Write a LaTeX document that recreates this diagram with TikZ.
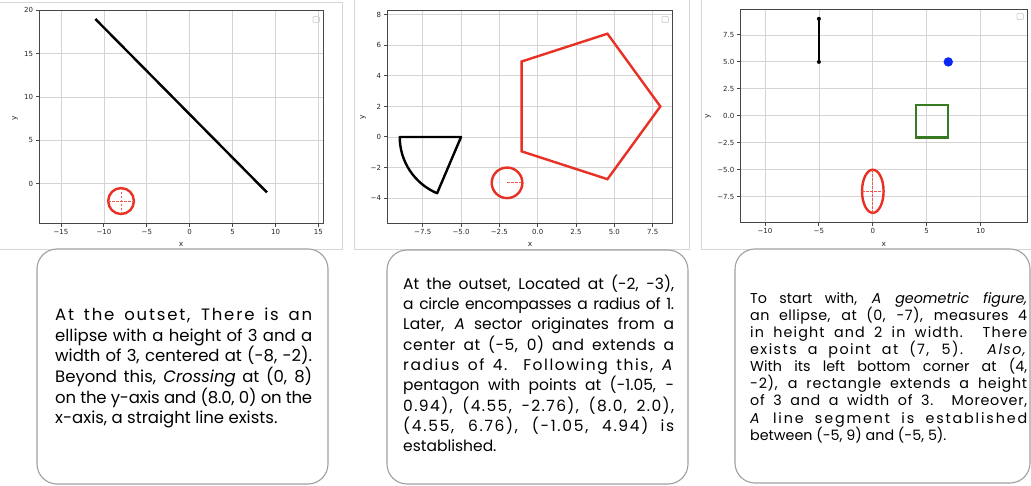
\documentclass[tikz,border=0pt]{standalone}
\usepackage{fontspec}
\setmainfont{Poppins}
\newfontfamily\tickfont{DejaVu Sans}
\newcommand\lsp[2]{{\addfontfeature{LetterSpace=#1}#2}}
\definecolor{plotred}{RGB}{232,48,36}
\definecolor{plotblue}{RGB}{10,40,245}
\definecolor{plotgreen}{RGB}{56,122,34}
\definecolor{gridc}{RGB}{212,212,212}
\definecolor{framec}{RGB}{70,70,70}
\definecolor{imgframe}{RGB}{215,215,215}
\definecolor{boxc}{RGB}{160,160,160}
\begin{document}
\begin{tikzpicture}[x=1pt,y=-1pt,
  gridline/.style={draw=gridc, line width=0.8pt},
  frame/.style={draw=framec, line width=1pt},
  ticklab/.style={font=\tickfont\fontsize{7}{8}\selectfont, text=black!85, inner sep=2pt},
  axlab/.style={font=\tickfont\fontsize{7.5}{8}\selectfont, text=black!85, inner sep=0pt},
  shapeline/.style={line width=2.4pt},
  crossd/.style={draw=plotred!80, line width=0.7pt, dash pattern=on 2.5pt off 1.5pt},
  legbox/.style={draw=imgframe, line width=0.8pt, rounded corners=1pt},
  textbox/.style={draw=boxc, line width=1.1pt, rounded corners=20pt, fill=white, inner sep=0pt},
  txt/.style={inner sep=0pt, anchor=base west},
  txtA/.style={txt, font=\fontsize{16.5}{18}\selectfont},
  txtB/.style={txt, font=\fontsize{15.5}{18}\selectfont},
  txtC/.style={txt, font=\fontsize{14.3}{16}\selectfont}]
\useasboundingbox (0,0) rectangle (1031,486);
\fill[white] (0,0) rectangle (1031,486);
% image frames
\draw[imgframe, line width=0.8pt] (-1,2.5) -- (342.7,2.5) -- (342.7,249.3) -- (-1,249.3);
\draw[imgframe, line width=0.8pt] (354.3,-1) -- (354.3,249.3) -- (689.3,249.3) -- (689.3,-1);
\draw[imgframe, line width=0.8pt] (701.7,-1) -- (701.7,249.3) -- (1032,249.3);

% ---------------- plot 1 ----------------
\begin{scope}[shift={(189.7,183.7)}, x=8.58pt, y=8.67pt]
  \foreach \v in {-15,-10,...,15} \draw[gridline] (\v,-4.61) -- (\v,20.03);
  \foreach \v in {0,5,...,20} \draw[gridline] (-17.56,\v) -- (15.54,\v);
  \foreach \v/\t [count=\i] in {-15/−15,-10/−10,-5/−5,0/0,5/5,10/10,15/15}
    \draw[frame] (\v,-4.61) -- ++(0,-3.5pt) node[below, ticklab] (pAx\i) {\t};
  \foreach \v/\t [count=\i] in {0/0,5/5,10/10,15/15,20/20}
    \draw[frame] (-17.56,\v) -- ++(-3.5pt,0) node[left, ticklab] (pAy\i) {\t};
  \draw[black, shapeline] (-11,19) -- (9,-1);
  \draw[plotred, shapeline] (-8,-2) ellipse [x radius=1.5, y radius=1.5];
  \draw[crossd] (-9.5,-2) -- (-6.5,-2);
  \draw[crossd] (-8,-3.5) -- (-8,-0.5);
  \draw[frame] (-17.56,-4.61) rectangle (15.54,20.03);
\end{scope}
\draw[legbox] (313,16.5) rectangle (319.5,22.5);
\node[axlab] (pAxl) at (181,244) {x};
\node[axlab, rotate=90] (pAyl) at (15,118) {y};

% ---------------- plot 2 ----------------
\begin{scope}[shift={(537.7,137)}, x=15.33pt, y=15.28pt]
  \foreach \v in {-7.5,-5,...,7.5} \draw[gridline] (\v,-5.65) -- (\v,8.29);
  \foreach \v in {-4,-2,...,8} \draw[gridline] (-9.83,\v) -- (8.8,\v);
  \foreach \v/\t [count=\i] in {-7.5/−7.5,-5/−5.0,-2.5/−2.5,0/0.0,2.5/2.5,5/5.0,7.5/7.5}
    \draw[frame] (\v,-5.65) -- ++(0,-3.5pt) node[below, ticklab] (pBx\i) {\t};
  \foreach \v/\t [count=\i] in {-4/−4,-2/−2,0/0,2/2,4/4,6/6,8/8}
    \draw[frame] (-9.83,\v) -- ++(-3.5pt,0) node[left, ticklab] (pBy\i) {\t};
  \draw[black, shapeline, line join=round] (-5,0) -- (-9,0) arc[start angle=180, end angle=247, radius=4] -- cycle;
  \draw[plotred, shapeline] (-2,-3) circle [radius=1];
  \draw[crossd] (-2,-3) -- (-1,-3);
  \draw[plotred, shapeline, line join=miter] (-1.05,-0.94) -- (4.55,-2.76) -- (8.0,2.0) -- (4.55,6.76) -- (-1.05,4.94) -- cycle;
  \draw[frame] (-9.83,-5.65) rectangle (8.8,8.29);
\end{scope}
\draw[legbox] (662,16.5) rectangle (668.5,22.5);
\node[axlab] (pBxl) at (530,244) {x};
\node[axlab, rotate=90] (pByl) at (363,117) {y};

% ---------------- plot 3 ----------------
\begin{scope}[shift={(872.8,115.8)}, x=10.78pt, y=10.78pt]
  \foreach \v in {-10,-5,...,10} \draw[gridline] (\v,-9.88) -- (\v,9.88);
  \foreach \v in {-7.5,-5,...,7.5} \draw[gridline] (-12.29,\v) -- (14.33,\v);
  \foreach \v/\t [count=\i] in {-10/−10,-5/−5,0/0,5/5,10/10}
    \draw[frame] (\v,-9.88) -- ++(0,-3.5pt) node[below, ticklab] (pCx\i) {\t};
  \foreach \v/\t [count=\i] in {-7.5/−7.5,-5/−5.0,-2.5/−2.5,0/0.0,2.5/2.5,5/5.0,7.5/7.5}
    \draw[frame] (-12.29,\v) -- ++(-3.5pt,0) node[left, ticklab] (pCy\i) {\t};
  \draw[black, shapeline] (-5,9) -- (-5,5);
  \fill[black] (-5,9) circle [radius=2pt];
  \fill[black] (-5,5) circle [radius=2pt];
  \fill[plotblue] (7,5) circle [radius=4.7pt];
  \draw[plotgreen, shapeline] (4,-2) rectangle (7,1);
  \draw[plotred, shapeline] (0,-7) ellipse [x radius=1, y radius=2];
  \draw[crossd] (-1,-7) -- (1,-7);
  \draw[crossd] (0,-9) -- (0,-5);
  \draw[frame] (-12.29,-9.88) rectangle (14.33,9.88);
\end{scope}
\draw[legbox] (1017,13.5) rectangle (1023.5,19.5);
\node[axlab] (pCxl) at (883.8,244) {x};
\node[axlab, rotate=90] (pCyl) at (708,116) {y};

% ---------------- text boxes ----------------
\node[textbox, minimum width=291pt, minimum height=235pt] (boxA) at (182.5,366.5) {};
\node[textbox, minimum width=301pt, minimum height=234pt] (boxB) at (537.5,367) {};
\node[textbox, minimum width=295pt, minimum height=234pt] (boxC) at (882.5,366) {};

\foreach \l [count=\i] in {{\lsp{11}{At the outset, There is an}},{ellipse with a height of 3 and a},{width of 3, centered at (-8, -2).},{Beyond this, \textit{Crossing} at (0, 8)},{\lsp{-1.5}{on the y-axis and (8.0, 0) on the}}}
  \node[txtA] (tA\i) at (55,{321+20.5*(\i-1)}) {\makebox[257pt][s]{\l}};
\node[txtA] (tA6) at (55,423.5) {x-axis, a straight line exists.};

\foreach \l [count=\i] in {{At the outset, Located at (-2, -3),},{\lsp{-2}{a circle encompasses a radius of 1.}},{Later, \textit{A} sector originates from a},{\lsp{3}{center at (-5, 0) and extends a}},{\lsp{10}{radius of 4. Following this, \textit{A}}},{pentagon with points at (-1.05, -},{\lsp{9}{0.94), (4.55, -2.76), (8.0, 2.0),}},{\lsp{11}{(4.55, 6.76), (-1.05, 4.94) is}}}
  \node[txtB] (tB\i) at (403,{289.3+20.3*(\i-1)}) {\makebox[271pt][s]{\l}};
\node[txtB] (tB9) at (403,451.7) {established.};

\foreach \l [count=\i] in {{To start with, \textit{A geometric figure,}},{\lsp{3}{an ellipse, at (0, -7), measures 4}},{\lsp{8}{in height and 2 in width.  There}},{\lsp{10}{exists a point at (7, 5). \textit{Also,}}},{With its left bottom corner at (4,},{\lsp{5}{-2), a rectangle extends a height}},{\lsp{5}{of 3 and a width of 3. Moreover,}},{\lsp{13}{\textit{A} line segment is established}}}
  \node[txtC] (tC\i) at (750,{303.3+17.1*(\i-1)}) {\makebox[277pt][s]{\l}};
\node[txtC] (tC9) at (750,440.1) {between (-5, 9) and (-5, 5).};
\end{tikzpicture}
\end{document}
